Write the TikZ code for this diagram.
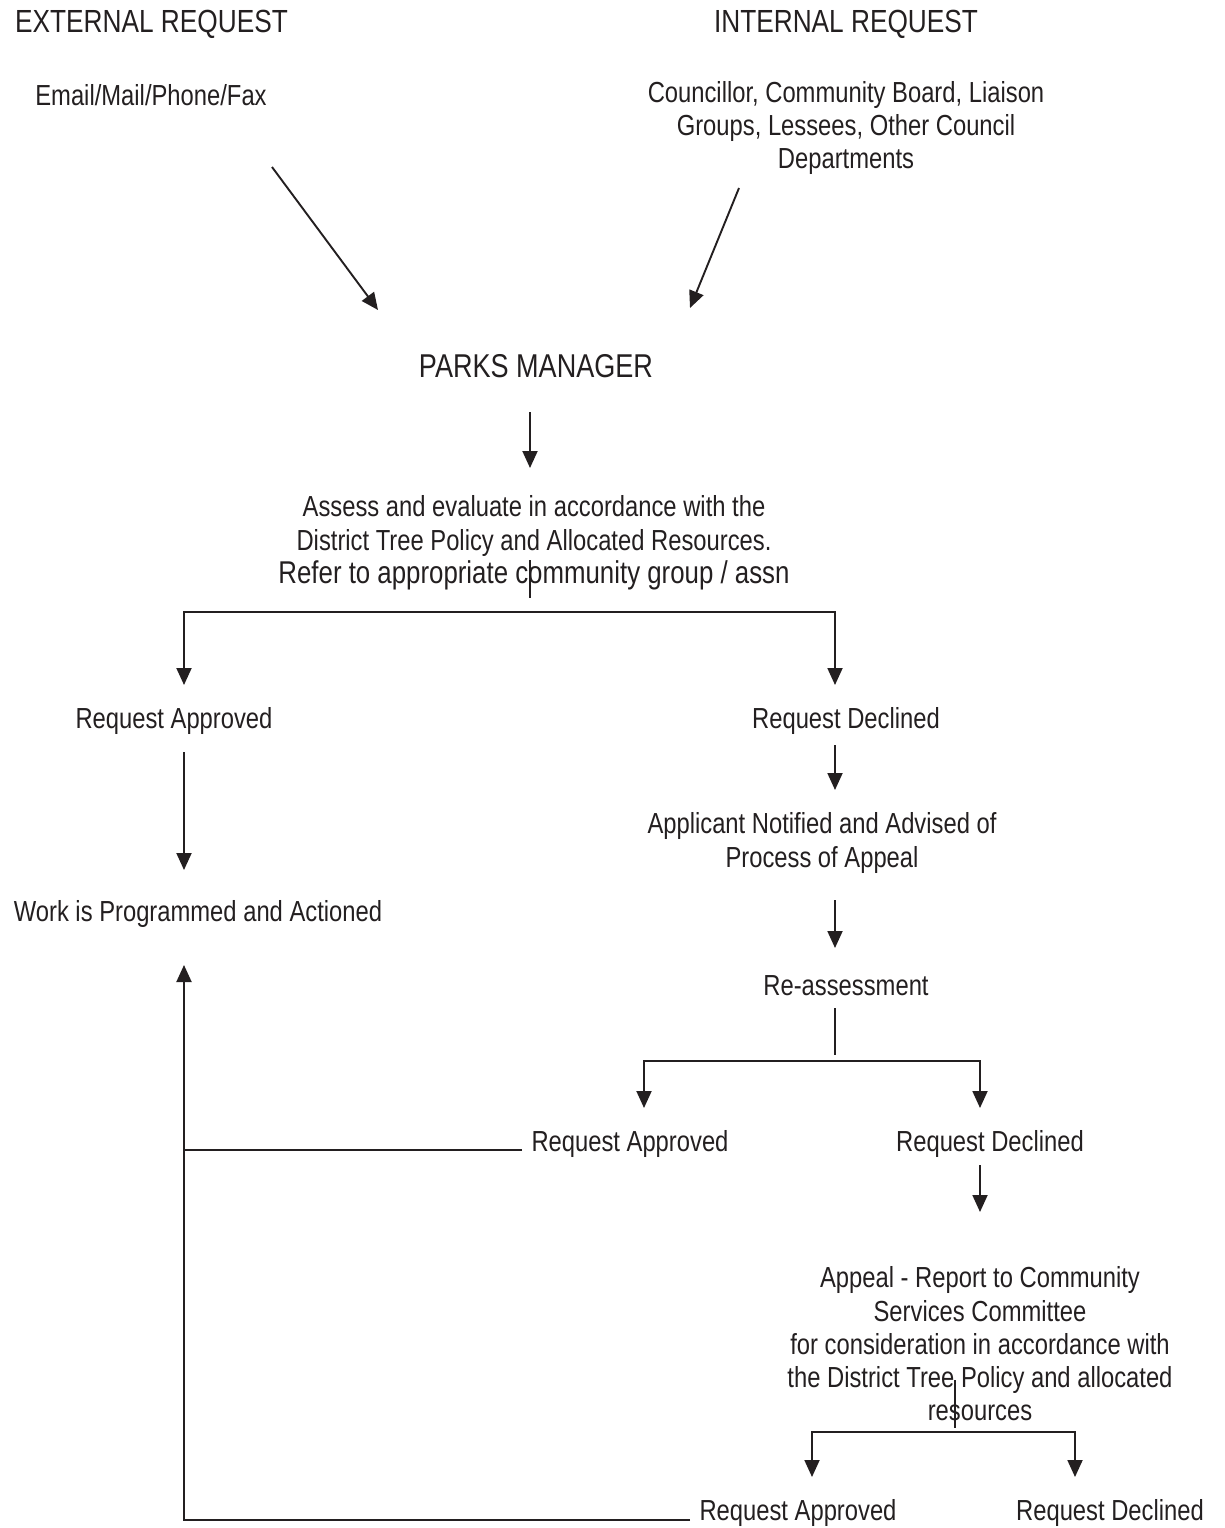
\documentclass[tikz,border=0pt]{standalone}
\usepackage{fontspec}
\setmainfont{Liberation Sans}[FakeStretch=0.82]
\usetikzlibrary{arrows.meta}
\definecolor{ink}{HTML}{231F20}
\begin{document}
\begin{tikzpicture}[x=1pt,y=-1pt,
  txt/.style={inner sep=0pt,align=center,text=ink,font=\fontsize{29}{33.3}\selectfont},
  head/.style={inner sep=0pt,align=center,text=ink,font=\fontsize{32}{36}\selectfont},
  conn/.style={draw=ink,line width=1.9pt},
  arr/.style={conn,-{Triangle[width=15pt,length=17pt]}},
  arrb/.style={conn,{Triangle[width=15pt,length=17pt]}-{Triangle[width=15pt,length=17pt]}}]
\useasboundingbox (0,0) rectangle (1224,1528);
% texts
\node[head,anchor=west] (ext) at (15,24) {EXTERNAL REQUEST};
\node[head] (int) at (846,24) {INTERNAL REQUEST};
\node[txt] (extsrc) at (151,95) {Email/Mail/Phone/Fax};
\node[txt] (intsrc) at (846,128) {Councillor, Community Board, Liaison\\Groups, Lessees, Other Council\\Departments};
\node[head,font=\fontsize{33}{36}\selectfont] (pm) at (536,366) {PARKS MANAGER};
\node[txt] (assess) at (534,543) {Assess and evaluate in accordance with the\\District Tree Policy and Allocated Resources.\\{\fontsize{31.5}{33.3}\selectfont Refer to appropriate community group / assn}};
\node[txt] (ra1) at (174,721) {Request Approved};
\node[txt] (rd1) at (846,721) {Request Declined};
\node[txt] (notify) at (822,843) {Applicant Notified and Advised of\\Process of Appeal};
\node[txt] (work) at (198,914) {Work is Programmed and Actioned};
\node[txt] (reas) at (846,986) {Re-assessment};
\node[txt] (ra2) at (630,1144) {Request Approved};
\node[txt] (rd2) at (990,1144) {Request Declined};
\node[txt] (appeal) at (980,1344) {Appeal - Report to Community\\Services Committee\\for consideration in accordance with\\the District Tree Policy and allocated\\resources};
\node[txt] (ra3) at (798,1513) {Request Approved};
\node[txt] (rd3) at (1110,1513) {Request Declined};
% connector coordinates
\coordinate (e1) at (272,167);  \coordinate (e2) at (378,310);
\coordinate (i1) at (739,188);  \coordinate (i2) at (690,308);
\coordinate (p1) at (530,412);  \coordinate (p2) at (530,468);
\coordinate (s1) at (530,560);  \coordinate (s2) at (530,598);
\coordinate (b1l) at (184,612); \coordinate (b1r) at (835,612);
\coordinate (t1l) at (184,685); \coordinate (t1r) at (835,685);
\coordinate (w1) at (184,752);  \coordinate (w2) at (184,870);
\coordinate (d1) at (835,745);  \coordinate (d2) at (835,790);
\coordinate (n1) at (835,900);  \coordinate (n2) at (835,948);
\coordinate (r1) at (835,1008); \coordinate (r2) at (835,1055);
\coordinate (b2l) at (644,1061); \coordinate (b2r) at (980,1061);
\coordinate (t2l) at (644,1108); \coordinate (t2r) at (980,1108);
\coordinate (q1) at (980,1165); \coordinate (q2) at (980,1212);
\coordinate (a1) at (955,1380); \coordinate (a2) at (955,1428);
\coordinate (b3l) at (812,1432); \coordinate (b3r) at (1075,1432);
\coordinate (t3l) at (812,1477); \coordinate (t3r) at (1075,1477);
\coordinate (lr) at (690,1520); \coordinate (ll) at (184,1520);
\coordinate (lt) at (184,965);
\coordinate (mr) at (522,1150); \coordinate (ml) at (184,1150);
% connectors
\draw[arr] (e1) -- (e2);
\draw[arr] (i1) -- (i2);
\draw[arr] (p1) -- (p2);
\draw[conn] (s1) -- (s2);
\draw[arrb] (t1l) -- (b1l) -- (b1r) -- (t1r);
\draw[arr] (w1) -- (w2);
\draw[arr] (d1) -- (d2);
\draw[arr] (n1) -- (n2);
\draw[conn] (r1) -- (r2);
\draw[arrb] (t2l) -- (b2l) -- (b2r) -- (t2r);
\draw[arr] (q1) -- (q2);
\draw[conn] (a1) -- (a2);
\draw[arrb] (t3l) -- (b3l) -- (b3r) -- (t3r);
\draw[arr] (lr) -- (ll) -- (lt);
\draw[conn] (mr) -- (ml);
\end{tikzpicture}
\end{document}
